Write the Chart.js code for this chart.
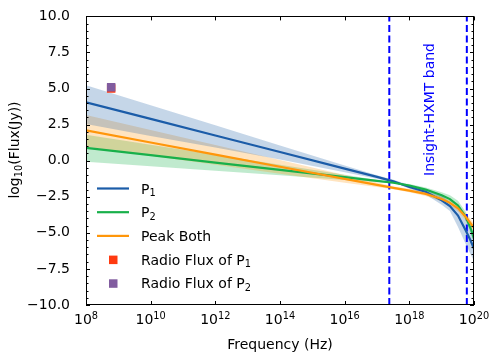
<!DOCTYPE html>
<html>
<head>
<meta charset="utf-8">
<script src="https://cdn.jsdelivr.net/npm/chart.js@4.4.1/dist/chart.umd.min.js"></script>
<style>
html, body { margin: 0; padding: 0; background: #fff; }
</style>
</head>
<body>
<canvas id="sedChart" width="499" height="361"></canvas>
<script>
const freqs = [1e8, 1e10, 1e12, 1e14, 1e16, 1e17, 3.2e17, 1e18, 3.2e18, 1e19, 1.8e19, 3.2e19, 5.6e19, 7.9e19, 1e20];

// log10 flux (Jy)
const p1Flux  = [4.04, 2.90, 1.75, 0.60, -0.55, -1.12, -1.43, -1.82, -2.15, -2.75, -3.15, -3.80, -4.85, -5.55, -6.10];
const p1Upper = [5.23, 3.84, 2.45, 1.06, -0.33, -1.00, -1.32, -1.68, -1.98, -2.45, -2.86, -3.40, -4.20, -4.70, -5.00];
const p1Lower = [2.55, 1.72, 0.92, 0.08, -0.80, -1.25, -1.52, -1.92, -2.35, -3.05, -3.49, -4.60, -5.80, -6.50, -6.95];

const p2Flux  = [0.89, 0.38, -0.13, -0.63, -1.14, -1.40, -1.53, -1.72, -2.00, -2.40, -2.66, -3.10, -3.90, -4.70, -5.40];
const p2Upper = [1.80, 1.11, 0.41, -0.28, -0.98, -1.33, -1.48, -1.62, -1.85, -2.18, -2.40, -2.78, -3.55, -4.35, -5.05];
const p2Lower = [-0.07, -0.38, -0.70, -1.01, -1.33, -1.48, -1.58, -1.80, -2.12, -2.58, -2.88, -3.38, -4.20, -5.00, -5.70];

const bothFlux  = [2.10, 1.26, 0.42, -0.42, -1.26, -1.68, -1.88, -2.07, -2.30, -2.65, -2.92, -3.30, -3.90, -4.35, -4.65];
const bothUpper = [3.17, 2.13, 1.09, 0.05, -0.99, -1.51, -1.78, -1.95, -2.15, -2.48, -2.72, -3.08, -3.65, -4.05, -4.35];
const bothLower = [0.96, 0.34, -0.28, -0.90, -1.52, -1.83, -1.98, -2.18, -2.45, -2.82, -3.12, -3.52, -4.18, -4.65, -4.95];

// radio points
const radioFreq = [6e8];
const radioP1 = [5.00];
const radioP2 = [5.09];

// Insight-HXMT band edges (Hz)
const hxmtBand = [2.4e17, 6.0e19];

// ticks
const xTickExps = [8, 10, 12, 14, 16, 18, 20];
const yTicks = [-10, -7.5, -5, -2.5, 0, 2.5, 5, 7.5, 10];

const BLUE = '#1b5ca8';
const GREEN = '#18b04a';
const ORANGE = '#ff960a';
const FONT = '"DejaVu Sans"';
const SUB = '₀₁₂₃₄₅₆₇₈₉';
const SUP = '⁰¹²³⁴⁵⁶⁷⁸⁹';

function pts(vals) {
    return freqs.map((f, i) => ({x: f, y: vals[i]}));
}

function sup(n) {
    return String(n).split('').map(c => SUP[+c]).join('');
}

// split text into normal / subscript / superscript runs
function runs(text) {
    const out = [];
    for (const ch of text) {
        let kind = 'n', c = ch;
        if (SUB.includes(ch)) { kind = 'sub'; c = String(SUB.indexOf(ch)); }
        else if (SUP.includes(ch)) { kind = 'sup'; c = String(SUP.indexOf(ch)); }
        const last = out[out.length - 1];
        if (last && last.kind === kind) last.t += c;
        else out.push({kind: kind, t: c});
    }
    return out;
}

function drawRich(ctx, text, x, y, align, size) {
    const rs = runs(text);
    const small = size * 0.7;
    let w = 0;
    rs.forEach(r => {
        ctx.font = (r.kind === 'n' ? size : small) + 'px ' + FONT;
        r.w = ctx.measureText(r.t).width;
        w += r.w;
    });
    let cx = align === 'center' ? x - w / 2 : x;
    ctx.textAlign = 'left';
    ctx.textBaseline = 'alphabetic';
    rs.forEach(r => {
        ctx.font = (r.kind === 'n' ? size : small) + 'px ' + FONT;
        const dy = r.kind === 'sub' ? size * 0.2 : (r.kind === 'sup' ? -size * 0.38 : 0);
        ctx.fillText(r.t, cx, y + dy);
        cx += r.w;
    });
}

function band(vals, color, fill) {
    return {
        type: 'line', data: pts(vals), borderWidth: 0, pointRadius: 0,
        backgroundColor: color, borderColor: 'rgba(0,0,0,0)',
        fill: fill, order: 10
    };
}

function vline(f) {
    return {
        type: 'line', data: [{x: f, y: -10}, {x: f, y: 10}],
        borderColor: '#0000ff', borderWidth: 2, borderDash: [7, 3.5],
        pointRadius: 0, fill: false, order: 4
    };
}

const datasets = [
    band(p1Upper, 'rgba(31,95,168,0.26)', '+1'),
    band(p1Lower, 'rgba(0,0,0,0)', false),
    band(bothUpper, 'rgba(255,150,10,0.26)', '+1'),
    band(bothLower, 'rgba(0,0,0,0)', false),
    band(p2Upper, 'rgba(24,176,74,0.27)', '+1'),
    band(p2Lower, 'rgba(0,0,0,0)', false),
    {type: 'line', label: 'P₁', data: pts(p1Flux), borderColor: BLUE, borderWidth: 2.2, pointRadius: 0, fill: false, order: 3, inLegend: 'line'},
    {type: 'line', label: 'P₂', data: pts(p2Flux), borderColor: GREEN, borderWidth: 2.2, pointRadius: 0, fill: false, order: 2, inLegend: 'line'},
    {type: 'line', label: 'Peak Both', data: pts(bothFlux), borderColor: ORANGE, borderWidth: 2.2, pointRadius: 0, fill: false, order: 1, inLegend: 'line'},
    vline(hxmtBand[0]),
    vline(hxmtBand[1]),
    {type: 'scatter', label: 'Radio Flux of P₁', data: radioFreq.map((f, i) => ({x: f, y: radioP1[i]})),
        pointStyle: 'rect', pointRadius: 6, backgroundColor: '#ff3a10', borderWidth: 0, order: 0, inLegend: 'rect'},
    {type: 'scatter', label: 'Radio Flux of P₂', data: radioFreq.map((f, i) => ({x: f, y: radioP2[i]})),
        pointStyle: 'rect', pointRadius: 6, backgroundColor: '#815c9f', borderWidth: 0, order: -1, inLegend: 'rect'}
];

const decor = {
    id: 'decor',
    afterDraw(chart) {
        const ctx = chart.ctx;
        const a = chart.chartArea;
        const xs = chart.scales.x, ys = chart.scales.y;
        ctx.save();
        ctx.strokeStyle = '#000';
        ctx.lineWidth = 1;
        ctx.strokeRect(Math.round(a.left) + 0.5, Math.round(a.top) + 0.5,
            Math.round(a.right - a.left) - 1, Math.round(a.bottom - a.top) - 1);

        // inward ticks
        ctx.beginPath();
        for (let v = -10; v <= 10.001; v += 0.5) {
            const py = Math.round(ys.getPixelForValue(v)) + 0.5;
            const len = yTicks.includes(Math.round(v * 10) / 10) ? 4 : 2.5;
            ctx.moveTo(a.left, py); ctx.lineTo(a.left + len, py);
            ctx.moveTo(a.right, py); ctx.lineTo(a.right - len, py);
        }
        xTickExps.forEach(e => {
            const px = Math.round(xs.getPixelForValue(Math.pow(10, e))) + 0.5;
            ctx.moveTo(px, a.bottom); ctx.lineTo(px, a.bottom - 4);
            ctx.moveTo(px, a.top); ctx.lineTo(px, a.top + 4);
        });
        ctx.stroke();

        // x tick labels 10^n
        ctx.fillStyle = '#000';
        xTickExps.forEach(e => {
            drawRich(ctx, '10' + sup(e), xs.getPixelForValue(Math.pow(10, e)), a.bottom + 19, 'center', 14);
        });

        // y axis title
        ctx.save();
        ctx.translate(19, 150);
        ctx.rotate(-Math.PI / 2);
        drawRich(ctx, 'log₁₀(Flux(Jy))', 0, 0, 'center', 14);
        ctx.restore();

        // band label
        ctx.fillStyle = '#0000ff';
        ctx.font = '14px ' + FONT;
        ctx.textAlign = 'center';
        ctx.textBaseline = 'middle';
        ctx.translate(xs.getPixelForValue(4.4e18), ys.getPixelForValue(3.55));
        ctx.rotate(-Math.PI / 2);
        ctx.fillText('Insight-HXMT band', 0, 0);
        ctx.restore();

        // legend
        ctx.save();
        let rowY = 188.5;
        chart.data.datasets.filter(ds => ds.inLegend).forEach(ds => {
            if (ds.inLegend === 'line') {
                ctx.strokeStyle = ds.borderColor;
                ctx.lineWidth = 2.2;
                ctx.beginPath();
                ctx.moveTo(97, rowY); ctx.lineTo(129, rowY);
                ctx.stroke();
            } else {
                ctx.fillStyle = ds.backgroundColor;
                ctx.fillRect(109, rowY - 4, 8.5, 8.5);
            }
            ctx.fillStyle = '#000';
            drawRich(ctx, ds.label, 141, rowY + 5, 'left', 14);
            rowY += 23.7;
        });
        ctx.restore();
    }
};

Chart.defaults.font.family = FONT;
Chart.defaults.font.size = 14;
Chart.defaults.color = '#000';

new Chart(document.getElementById('sedChart'), {
    data: {datasets: datasets},
    options: {
        responsive: false,
        animation: false,
        devicePixelRatio: 1,
        layout: {padding: {top: 13, right: 25, bottom: 0, left: 0}},
        plugins: {
            legend: {display: false},
            tooltip: {enabled: false},
            filler: {drawTime: 'beforeDatasetsDraw'}
        },
        scales: {
            x: {
                type: 'logarithmic', min: 1e8, max: 1e20,
                grid: {display: false}, border: {display: false},
                afterBuildTicks: s => { s.ticks = xTickExps.map(e => ({value: Math.pow(10, e)})); },
                afterFit: s => { s.height = 56; },
                ticks: {display: false},
                title: {display: true, text: 'Frequency (Hz)', padding: {top: 0, bottom: 7.5}}
            },
            y: {
                type: 'linear', min: -10, max: 10,
                grid: {display: false}, border: {display: false},
                afterBuildTicks: s => { s.ticks = yTicks.map(v => ({value: v})); },
                afterFit: s => { s.width = 86; },
                ticks: {
                    padding: 8,
                    callback: v => v.toFixed(1).replace('-', '\u2212')
                }
            }
        }
    },
    plugins: [decor]
});
</script>
</body>
</html>
